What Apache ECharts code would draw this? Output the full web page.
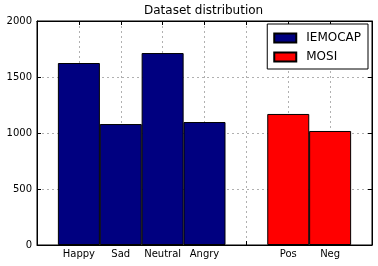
<!DOCTYPE html>
<html>
<head>
<meta charset="utf-8">
<script src="https://cdn.jsdelivr.net/npm/echarts@6/dist/echarts.min.js"></script>
<style>html,body{margin:0;padding:0;background:#fff;}#c{width:378px;height:266px;}</style>
</head>
<body>
<div id="c"></div>
<script>
const tickLabels = ['Happy', 'Sad', 'Neutral', 'Angry', '', 'Pos', 'Neg'];
const iemocapValues = [1625, 1080, 1714, 1098];
const iemocapPositions = [0, 1, 2, 3];
const mosiValues = [1170, 1018];
const mosiPositions = [5, 6];
const yTicks = [0, 500, 1000, 1500, 2000];

const FONT = 'DejaVu Sans';
const chart = echarts.init(document.getElementById('c'), null, {renderer: 'canvas'});
const grid = {left: 37, right: 6, top: 21, bottom: 21, show: true, borderColor: '#000', borderWidth: 1};
const gridLine = {show: true, lineStyle: {color: '#b0b0b0', type: [2, 3], width: 1}};
const tick = {show: true, inside: true, length: 4, lineStyle: {color: '#000', width: 1}};
const line = {show: true, onZero: false, lineStyle: {color: '#000'}};

chart.setOption({
  animation: false,
  backgroundColor: '#fff',
  title: {
    text: 'Dataset distribution', left: 144, top: 5, padding: 0,
    textStyle: {fontFamily: FONT, fontSize: 12, fontWeight: 'normal', color: '#000'}
  },
  legend: {
    orient: 'vertical', right: 10, top: 24,
    padding: [7, 7, 5, 6], itemGap: 5,
    borderColor: '#000', borderWidth: 1, backgroundColor: '#fff',
    itemWidth: 22, itemHeight: 9, icon: 'rect',
    textStyle: {fontFamily: FONT, fontSize: 12, color: '#000', lineHeight: 14, padding: [0, 0, 0, 5]},
    data: ['IEMOCAP', 'MOSI']
  },
  grid: grid,
  xAxis: [{
    type: 'value', min: -1, max: 7, interval: 1, position: 'bottom',
    axisLine: line,
    axisTick: tick,
    splitLine: gridLine,
    axisLabel: {
      fontFamily: FONT, fontSize: 10, color: '#000', margin: 4,
      showMinLabel: false, showMaxLabel: false,
      formatter: v => (v >= 0 && v < tickLabels.length) ? tickLabels[v] : ''
    }
  }, {
    type: 'value', min: -1, max: 7, interval: 1, position: 'top',
    axisLine: line,
    axisTick: tick, splitLine: {show: false}, axisLabel: {show: false}
  }],
  yAxis: [{
    type: 'value', min: yTicks[0], max: yTicks[yTicks.length - 1], interval: 500, position: 'left',
    axisLine: line,
    axisTick: tick,
    splitLine: gridLine,
    axisLabel: {fontFamily: FONT, fontSize: 10, color: '#000', margin: 5, formatter: v => String(v)}
  }, {
    type: 'value', min: yTicks[0], max: yTicks[yTicks.length - 1], interval: 500, position: 'right',
    axisLine: line,
    axisTick: tick, splitLine: {show: false}, axisLabel: {show: false}
  }],
  series: [{
    name: 'IEMOCAP', type: 'bar', xAxisIndex: 0, yAxisIndex: 0,
    barWidth: 42, barGap: '-100%',
    itemStyle: {color: '#000080', borderColor: '#000', borderWidth: 1},
    data: iemocapPositions.map((p, i) => [p, iemocapValues[i]])
  }, {
    name: 'MOSI', type: 'bar', xAxisIndex: 0, yAxisIndex: 0,
    barWidth: 42, barGap: '-100%',
    itemStyle: {color: '#ff0000', borderColor: '#000', borderWidth: 1},
    data: mosiPositions.map((p, i) => [p, mosiValues[i]])
  }]
});
</script>
</body>
</html>
